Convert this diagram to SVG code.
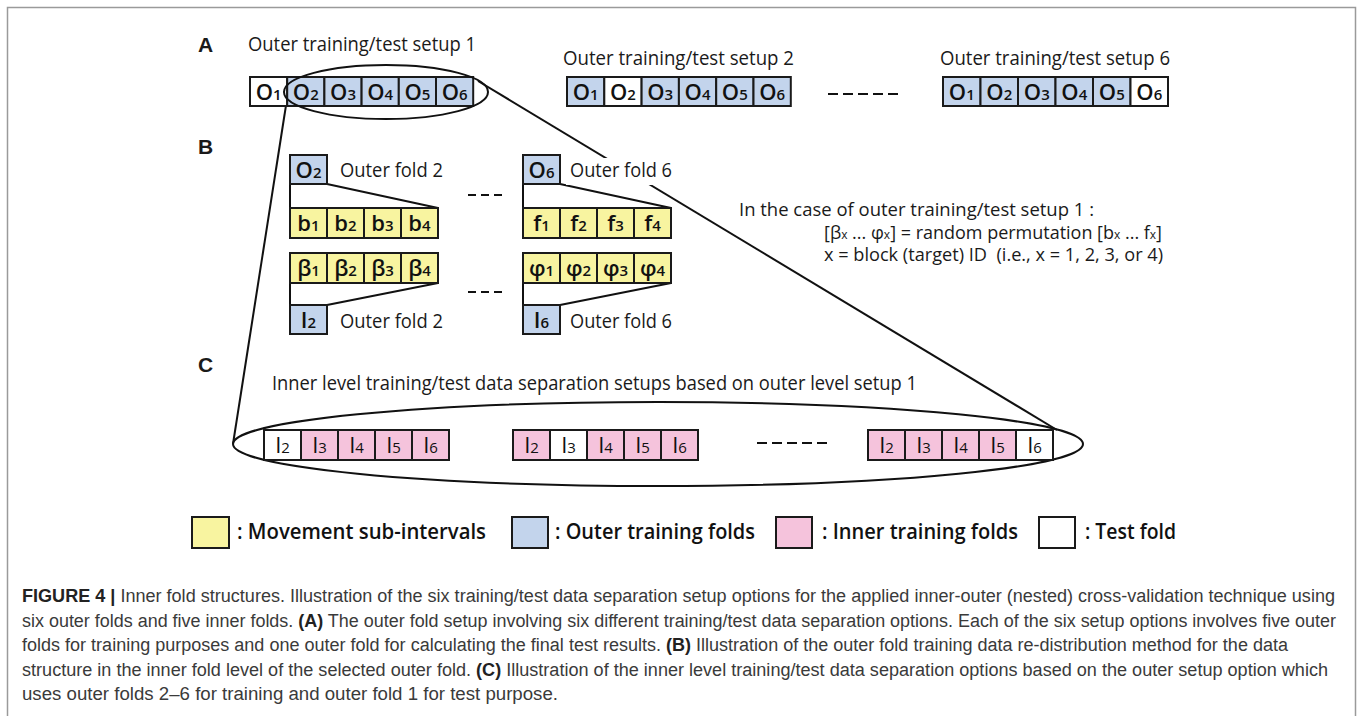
<svg xmlns="http://www.w3.org/2000/svg" width="1360" height="716" viewBox="0 0 1360 716">
<style>
.frame{fill:none;stroke:#9a9a9a;stroke-width:1.5}
.c{stroke:#1a1a1a;stroke-width:2}
.bl{fill:#c3d4ec}.ye{fill:#f8f4a0}.pk{fill:#f5c3dc}.wh{fill:#ffffff}
.ln{stroke:#111;stroke-width:2;fill:none}
.dash{stroke:#111;stroke-width:2}
.lbl{font-family:"Open Sans","Noto Sans",sans-serif;font-size:20px;fill:#1a1a1a}
.rt{font-family:"Open Sans","Noto Sans",sans-serif;font-size:18px;fill:#1a1a1a}
.pl{font-family:"Liberation Sans",Arial,sans-serif;font-weight:bold;font-size:21px;fill:#1a1a1a}
.cl{font-family:"Open Sans","Noto Sans",sans-serif;font-weight:600;font-size:22px;fill:#111;text-anchor:middle}
.ci{font-family:"Open Sans","Noto Sans",sans-serif;font-weight:400;font-size:22px;fill:#111;text-anchor:middle}
.sb{font-size:15px}
.lg{font-family:"Open Sans","Noto Sans",sans-serif;font-weight:600;font-size:21px;fill:#111}
.cap{font-family:"Liberation Sans",Arial,sans-serif;font-size:18px;fill:#3a3a3a}
.b{font-weight:bold;fill:#222}
</style>
<path class="frame" d="M7.5,720 V7.5 H1355.5 V720"/>

<g id="connectors">
  <line class="ln" x1="287" y1="99" x2="233" y2="444"/>
  <line class="ln" x1="478" y1="81" x2="1057" y2="430"/>
  <ellipse class="ln" cx="658" cy="444" rx="425" ry="42"/>
  <path class="ln" d="M290,184 V208 M327,184 L438,208"/>
  <path class="ln" d="M290,283 V305 M438,283 L327,305"/>
  <path class="ln" d="M523,184 V208 M560,184 L671,208"/>
  <path class="ln" d="M523,283 V305 M671,283 L560,305"/>
  <path class="dash" d="M828,94 h10 M843,94 h10 M858,94 h10 M873,94 h10 M888,94 h10"/>
  <path class="dash" d="M468,195 h8 M481,195 h8 M494,195 h8"/>
  <path class="dash" d="M468,292 h8 M481,292 h8 M494,292 h8"/>
  <path class="dash" d="M757,443 h10 M772,443 h10 M787,443 h10 M802,443 h10 M817,443 h10"/>
</g>

<text class="pl" x="198" y="52">A</text>
<text class="pl" x="198" y="154">B</text>
<text class="pl" x="198" y="372">C</text>

<g id="setup1">
  <text class="lbl" x="248" y="51" textLength="228" lengthAdjust="spacingAndGlyphs">Outer training/test setup 1</text>
  <rect class="c wh" x="250" y="77" width="37.2" height="29"/>
  <rect class="c bl" x="287.2" y="77" width="37.2" height="29"/>
  <rect class="c bl" x="324.4" y="77" width="37.2" height="29"/>
  <rect class="c bl" x="361.6" y="77" width="37.2" height="29"/>
  <rect class="c bl" x="398.8" y="77" width="37.2" height="29"/>
  <rect class="c bl" x="436" y="77" width="37.2" height="29"/>
  <text class="cl" x="268.6" y="99.5">O<tspan class="sb">1</tspan></text>
  <text class="cl" x="305.8" y="99.5">O<tspan class="sb">2</tspan></text>
  <text class="cl" x="343" y="99.5">O<tspan class="sb">3</tspan></text>
  <text class="cl" x="380.2" y="99.5">O<tspan class="sb">4</tspan></text>
  <text class="cl" x="417.4" y="99.5">O<tspan class="sb">5</tspan></text>
  <text class="cl" x="454.6" y="99.5">O<tspan class="sb">6</tspan></text>
  <ellipse class="ln" cx="386" cy="92" rx="102" ry="27"/>
</g>

<g id="setup2">
  <text class="lbl" x="563" y="65" textLength="231" lengthAdjust="spacingAndGlyphs">Outer training/test setup 2</text>
  <rect class="c bl" x="567" y="77" width="37.3" height="29"/>
  <rect class="c wh" x="604.3" y="77" width="37.3" height="29"/>
  <rect class="c bl" x="641.6" y="77" width="37.3" height="29"/>
  <rect class="c bl" x="678.9" y="77" width="37.3" height="29"/>
  <rect class="c bl" x="716.2" y="77" width="37.3" height="29"/>
  <rect class="c bl" x="753.5" y="77" width="37.3" height="29"/>
  <text class="cl" x="585.6" y="99.5">O<tspan class="sb">1</tspan></text>
  <text class="cl" x="622.9" y="99.5">O<tspan class="sb">2</tspan></text>
  <text class="cl" x="660.2" y="99.5">O<tspan class="sb">3</tspan></text>
  <text class="cl" x="697.5" y="99.5">O<tspan class="sb">4</tspan></text>
  <text class="cl" x="734.8" y="99.5">O<tspan class="sb">5</tspan></text>
  <text class="cl" x="772.1" y="99.5">O<tspan class="sb">6</tspan></text>
</g>

<g id="setup6">
  <text class="lbl" x="940" y="65" textLength="230" lengthAdjust="spacingAndGlyphs">Outer training/test setup 6</text>
  <rect class="c bl" x="943" y="77" width="37.5" height="29"/>
  <rect class="c bl" x="980.5" y="77" width="37.5" height="29"/>
  <rect class="c bl" x="1018" y="77" width="37.5" height="29"/>
  <rect class="c bl" x="1055.5" y="77" width="37.5" height="29"/>
  <rect class="c bl" x="1093" y="77" width="37.5" height="29"/>
  <rect class="c wh" x="1130.5" y="77" width="37.5" height="29"/>
  <text class="cl" x="961.75" y="99.5">O<tspan class="sb">1</tspan></text>
  <text class="cl" x="999.25" y="99.5">O<tspan class="sb">2</tspan></text>
  <text class="cl" x="1036.75" y="99.5">O<tspan class="sb">3</tspan></text>
  <text class="cl" x="1074.25" y="99.5">O<tspan class="sb">4</tspan></text>
  <text class="cl" x="1111.75" y="99.5">O<tspan class="sb">5</tspan></text>
  <text class="cl" x="1149.25" y="99.5">O<tspan class="sb">6</tspan></text>
</g>

<g id="fold2">
  <rect class="c bl" x="290" y="155" width="37" height="29"/>
  <text class="cl" x="308.5" y="177.5">O<tspan class="sb">2</tspan></text>
  <text class="lbl" x="340" y="177" textLength="103" lengthAdjust="spacingAndGlyphs">Outer fold 2</text>
  <rect class="c ye" x="290" y="208" width="37" height="30"/>
  <rect class="c ye" x="327" y="208" width="37" height="30"/>
  <rect class="c ye" x="364" y="208" width="37" height="30"/>
  <rect class="c ye" x="401" y="208" width="37" height="30"/>
  <text class="cl" x="308.5" y="231">b<tspan class="sb">1</tspan></text>
  <text class="cl" x="345.5" y="231">b<tspan class="sb">2</tspan></text>
  <text class="cl" x="382.5" y="231">b<tspan class="sb">3</tspan></text>
  <text class="cl" x="419.5" y="231">b<tspan class="sb">4</tspan></text>
  <rect class="c ye" x="290" y="253" width="37" height="30"/>
  <rect class="c ye" x="327" y="253" width="37" height="30"/>
  <rect class="c ye" x="364" y="253" width="37" height="30"/>
  <rect class="c ye" x="401" y="253" width="37" height="30"/>
  <text class="cl" x="308.5" y="276">β<tspan class="sb">1</tspan></text>
  <text class="cl" x="345.5" y="276">β<tspan class="sb">2</tspan></text>
  <text class="cl" x="382.5" y="276">β<tspan class="sb">3</tspan></text>
  <text class="cl" x="419.5" y="276">β<tspan class="sb">4</tspan></text>
  <rect class="c bl" x="290" y="305" width="37" height="29"/>
  <text class="cl" x="308.5" y="327.5">I<tspan class="sb">2</tspan></text>
  <text class="lbl" x="340" y="328" textLength="103" lengthAdjust="spacingAndGlyphs">Outer fold 2</text>
</g>

<g id="fold6">
  <rect class="c bl" x="523" y="155" width="37" height="29"/>
  <text class="cl" x="541.5" y="177.5">O<tspan class="sb">6</tspan></text>
  <rect fill="#ffffff" x="566" y="158" width="108" height="27"/>
  <text class="lbl" x="570" y="177" textLength="102" lengthAdjust="spacingAndGlyphs">Outer fold 6</text>
  <rect class="c ye" x="523" y="208" width="37" height="30"/>
  <rect class="c ye" x="560" y="208" width="37" height="30"/>
  <rect class="c ye" x="597" y="208" width="37" height="30"/>
  <rect class="c ye" x="634" y="208" width="37" height="30"/>
  <text class="cl" x="541.5" y="231">f<tspan class="sb">1</tspan></text>
  <text class="cl" x="578.5" y="231">f<tspan class="sb">2</tspan></text>
  <text class="cl" x="615.5" y="231">f<tspan class="sb">3</tspan></text>
  <text class="cl" x="652.5" y="231">f<tspan class="sb">4</tspan></text>
  <rect class="c ye" x="523" y="253" width="37" height="30"/>
  <rect class="c ye" x="560" y="253" width="37" height="30"/>
  <rect class="c ye" x="597" y="253" width="37" height="30"/>
  <rect class="c ye" x="634" y="253" width="37" height="30"/>
  <text class="cl" x="541.5" y="276">φ<tspan class="sb">1</tspan></text>
  <text class="cl" x="578.5" y="276">φ<tspan class="sb">2</tspan></text>
  <text class="cl" x="615.5" y="276">φ<tspan class="sb">3</tspan></text>
  <text class="cl" x="652.5" y="276">φ<tspan class="sb">4</tspan></text>
  <rect class="c bl" x="523" y="305" width="37" height="29"/>
  <text class="cl" x="541.5" y="327.5">I<tspan class="sb">6</tspan></text>
  <text class="lbl" x="570" y="328" textLength="102" lengthAdjust="spacingAndGlyphs">Outer fold 6</text>
</g>

<g id="note">
  <text class="rt" x="739" y="216" textLength="355" lengthAdjust="spacingAndGlyphs">In the case of outer training/test setup 1 :</text>
  <text class="rt" x="824" y="239" textLength="338" lengthAdjust="spacingAndGlyphs">[β<tspan font-size="12">x</tspan> ... φ<tspan font-size="12">x</tspan>] = random permutation [b<tspan font-size="12">x</tspan> ... f<tspan font-size="12">x</tspan>]</text>
  <text class="rt" x="824" y="261" textLength="339" lengthAdjust="spacingAndGlyphs" xml:space="preserve">x = block (target) ID  (i.e., x = 1, 2, 3, or 4)</text>
</g>

<g id="inner-title">
  <text class="lbl" x="272" y="390" textLength="645" lengthAdjust="spacingAndGlyphs">Inner level training/test data separation setups based on outer level setup 1</text>
</g>

<g id="inner1">
  <rect class="c wh" x="264" y="430" width="37" height="30"/>
  <rect class="c pk" x="301" y="430" width="37" height="30"/>
  <rect class="c pk" x="338" y="430" width="37" height="30"/>
  <rect class="c pk" x="375" y="430" width="37" height="30"/>
  <rect class="c pk" x="412" y="430" width="37" height="30"/>
  <text class="ci" x="282.5" y="452.5">I<tspan class="sb">2</tspan></text>
  <text class="ci" x="319.5" y="452.5">I<tspan class="sb">3</tspan></text>
  <text class="ci" x="356.5" y="452.5">I<tspan class="sb">4</tspan></text>
  <text class="ci" x="393.5" y="452.5">I<tspan class="sb">5</tspan></text>
  <text class="ci" x="430.5" y="452.5">I<tspan class="sb">6</tspan></text>
</g>
<g id="inner2">
  <rect class="c pk" x="513" y="430" width="37" height="30"/>
  <rect class="c wh" x="550" y="430" width="37" height="30"/>
  <rect class="c pk" x="587" y="430" width="37" height="30"/>
  <rect class="c pk" x="624" y="430" width="37" height="30"/>
  <rect class="c pk" x="661" y="430" width="37" height="30"/>
  <text class="ci" x="531.5" y="452.5">I<tspan class="sb">2</tspan></text>
  <text class="ci" x="568.5" y="452.5">I<tspan class="sb">3</tspan></text>
  <text class="ci" x="605.5" y="452.5">I<tspan class="sb">4</tspan></text>
  <text class="ci" x="642.5" y="452.5">I<tspan class="sb">5</tspan></text>
  <text class="ci" x="679.5" y="452.5">I<tspan class="sb">6</tspan></text>
</g>
<g id="inner6">
  <rect class="c pk" x="868" y="430" width="37" height="30"/>
  <rect class="c pk" x="905" y="430" width="37" height="30"/>
  <rect class="c pk" x="942" y="430" width="37" height="30"/>
  <rect class="c pk" x="979" y="430" width="37" height="30"/>
  <rect class="c wh" x="1016" y="430" width="37" height="30"/>
  <text class="ci" x="886.5" y="452.5">I<tspan class="sb">2</tspan></text>
  <text class="ci" x="923.5" y="452.5">I<tspan class="sb">3</tspan></text>
  <text class="ci" x="960.5" y="452.5">I<tspan class="sb">4</tspan></text>
  <text class="ci" x="997.5" y="452.5">I<tspan class="sb">5</tspan></text>
  <text class="ci" x="1034.5" y="452.5">I<tspan class="sb">6</tspan></text>
</g>

<g id="legend">
  <rect class="c ye" x="192" y="517" width="37" height="31"/>
  <text class="lg" x="237" y="539" textLength="249" lengthAdjust="spacingAndGlyphs">: Movement sub-intervals</text>
  <rect class="c bl" x="512" y="517" width="36" height="31"/>
  <text class="lg" x="555" y="539" textLength="200" lengthAdjust="spacingAndGlyphs">: Outer training folds</text>
  <rect class="c pk" x="776" y="517" width="36" height="31"/>
  <text class="lg" x="822" y="539" textLength="196" lengthAdjust="spacingAndGlyphs">: Inner training folds</text>
  <rect class="c wh" x="1039" y="517" width="36" height="31"/>
  <text class="lg" x="1085" y="539" textLength="91" lengthAdjust="spacingAndGlyphs">: Test fold</text>
</g>

<g id="caption">
  <text class="cap" x="22" y="602" textLength="1313" lengthAdjust="spacingAndGlyphs"><tspan class="b">FIGURE 4 |</tspan> Inner fold structures. Illustration of the six training/test data separation setup options for the applied inner-outer (nested) cross-validation technique using</text>
  <text class="cap" x="22" y="627" textLength="1314" lengthAdjust="spacingAndGlyphs">six outer folds and five inner folds. <tspan class="b">(A)</tspan> The outer fold setup involving six different training/test data separation options. Each of the six setup options involves five outer</text>
  <text class="cap" x="22" y="651" textLength="1266" lengthAdjust="spacingAndGlyphs">folds for training purposes and one outer fold for calculating the final test results. <tspan class="b">(B)</tspan> Illustration of the outer fold training data re-distribution method for the data</text>
  <text class="cap" x="22" y="676" textLength="1306" lengthAdjust="spacingAndGlyphs">structure in the inner fold level of the selected outer fold. <tspan class="b">(C)</tspan> Illustration of the inner level training/test data separation options based on the outer setup option which</text>
  <text class="cap" x="22" y="700" textLength="536" lengthAdjust="spacingAndGlyphs">uses outer folds 2–6 for training and outer fold 1 for test purpose.</text>
</g>
</svg>
